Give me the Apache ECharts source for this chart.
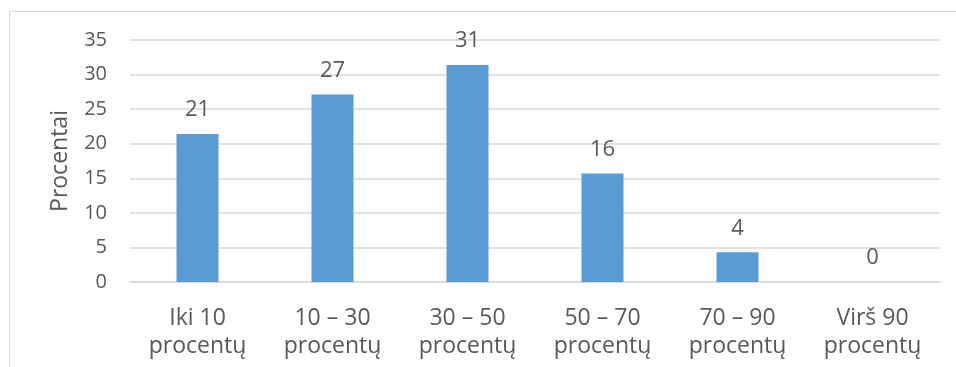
<!DOCTYPE html>
<html>
<head>
<meta charset="utf-8">
<script src="https://cdn.jsdelivr.net/npm/echarts@6/dist/echarts.min.js"></script>
<style>
  html, body { margin: 0; padding: 0; background: #fff; }
  #chart { width: 956px; height: 367px; }
</style>
</head>
<body>
<div id="chart"></div>
<script>
// Share of respondents by percentage band
const categories = ['Iki 10\nprocentų', '10 – 30\nprocentų', '30 – 50\nprocentų', '50 – 70\nprocentų', '70 – 90\nprocentų', 'Virš 90\nprocentų'];
const values = [21.4, 27.1, 31.4, 15.7, 4.3, 0];
const yTicks = [0, 5, 10, 15, 20, 25, 30, 35];
const yTitle = 'Procentai';

const textColor = '#595959';
const gridColor = '#d9d9d9';
const font = '"Open Sans", "Noto Sans", sans-serif';

const chart = echarts.init(document.getElementById('chart'), null, { renderer: 'canvas' });
chart.setOption({
  animation: false,
  backgroundColor: '#fff',
  graphic: [{
    type: 'rect',
    shape: { x: 9.5, y: 11.5, width: 1000, height: 400 },
    style: { fill: 'none', stroke: gridColor, lineWidth: 1 },
    silent: true
  }],
  grid: { left: 130, right: 16, top: 40, bottom: 85 },
  xAxis: {
    type: 'category',
    data: categories,
    axisLine: { lineStyle: { color: gridColor, width: 1.5 } },
    axisTick: { show: false },
    axisLabel: { color: textColor, fontFamily: font, fontSize: 23, lineHeight: 28, margin: 22, interval: 0 }
  },
  yAxis: {
    type: 'value',
    min: yTicks[0],
    max: yTicks[yTicks.length - 1],
    interval: yTicks[1] - yTicks[0],
    name: yTitle,
    nameLocation: 'middle',
    nameRotate: 90,
    nameGap: 58,
    nameTextStyle: { color: textColor, fontFamily: font, fontSize: 23 },
    axisLine: { show: false },
    axisTick: { show: false },
    axisLabel: { color: textColor, fontFamily: font, fontSize: 20, margin: 23 },
    splitLine: { lineStyle: { color: gridColor, width: 1.5 } }
  },
  series: [{
    type: 'bar',
    data: values,
    barWidth: 42,
    itemStyle: { color: '#5B9BD5' },
    label: {
      show: true,
      position: 'top',
      distance: 13,
      color: textColor,
      fontFamily: font,
      fontSize: 22,
      formatter: p => String(Math.round(p.value))
    }
  }]
});
</script>
</body>
</html>
